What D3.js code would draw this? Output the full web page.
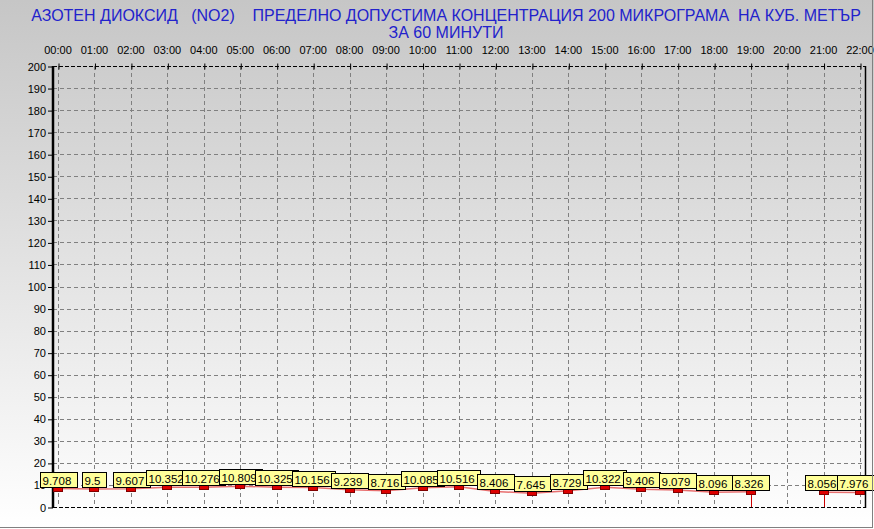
<!DOCTYPE html>
<html><head><meta charset="utf-8">
<script src="https://cdn.jsdelivr.net/npm/d3@7/dist/d3.min.js"></script>
<style>body{margin:0;padding:0;background:#fff}svg{display:block}</style>
</head><body>
<svg id="c" width="874" height="529"></svg>
<script>
const titleLines = ["АЗОТЕН ДИОКСИД   (NO2)    ПРЕДЕЛНО ДОПУСТИМА КОНЦЕНТРАЦИЯ 200 МИКРОГРАМА  НА КУБ. МЕТЪР", "ЗА 60 МИНУТИ"];
const hours = ["00:00","01:00","02:00","03:00","04:00","05:00","06:00","07:00","08:00","09:00","10:00","11:00","12:00","13:00","14:00","15:00","16:00","17:00","18:00","19:00","20:00","21:00","22:00"];
const values = [9.708,9.5,9.607,10.352,10.276,10.809,10.325,10.156,9.239,8.716,10.085,10.516,8.406,7.645,8.729,10.322,9.406,9.079,8.096,8.326,null,8.056,7.976];
const labels = ["9.708","9.5","9.607","10.352","10.276","10.809","10.325","10.156","9.239","8.716","10.085","10.516","8.406","7.645","8.729","10.322","9.406","9.079","8.096","8.326",null,"8.056","7.976"];
const yTicks = d3.range(0, 201, 10);

(function(){
const svg = d3.select("#c");
const W = 874, H = 529;
const defs = svg.append("defs");
const g = defs.append("linearGradient").attr("id","bg").attr("x1",0).attr("y1",0).attr("x2",0).attr("y2",1);
g.append("stop").attr("offset",0).attr("stop-color","#c6c6c6");
g.append("stop").attr("offset",1).attr("stop-color","#ffffff");
svg.append("rect").attr("width",W).attr("height",H).attr("fill","url(#bg)");

const pL = 53, pR = 865, pT = 66, pB = 507;
const x = d3.scaleLinear().domain([0,22]).range([58,860]);
const y = d3.scaleLinear().domain([0,200]).range([pB, pT]);

svg.append("g").selectAll("text").data(titleLines).join("text")
  .attr("x",446).attr("y",(d,i)=>21+i*17).attr("text-anchor","middle")
  .attr("font-family","Liberation Sans, Arial, sans-serif").attr("font-size",16)
  .attr("fill","#2222cc").style("white-space","pre").text(d=>d);

const grid = svg.append("g").attr("stroke","#808080").attr("stroke-dasharray","4,3").attr("stroke-width",1);
grid.selectAll("line.v").data(hours).join("line").attr("class","v")
  .attr("x1",(d,i)=>Math.round(x(i))+0.5).attr("x2",(d,i)=>Math.round(x(i))+0.5)
  .attr("y1",pT).attr("y2",pB);
grid.selectAll("line.h").data(yTicks.filter(t=>t>0&&t<200)).join("line").attr("class","h")
  .attr("x1",pL).attr("x2",pR)
  .attr("y1",d=>Math.round(y(d))+0.5).attr("y2",d=>Math.round(y(d))+0.5);

const topAxis = d3.axisTop(x).tickValues(d3.range(0,23)).tickFormat(i=>hours[i]).tickSize(3).tickPadding(9);
const ta = svg.append("g").attr("transform",`translate(0.5,${pT+0.5})`).call(topAxis);
ta.select(".domain").remove();
ta.selectAll("text").attr("font-family","Liberation Sans, Arial, sans-serif").attr("font-size",11).attr("fill","#000").attr("dx",-1).attr("dy",-1);
ta.selectAll(".tick line").attr("stroke","#000").attr("y2",3).attr("y1",-3);
svg.append("line").attr("x1",pL).attr("x2",pR).attr("y1",pT+0.5).attr("y2",pT+0.5).attr("stroke","#000").attr("stroke-dasharray","4,2");
svg.append("line").attr("x1",pL).attr("x2",pR).attr("y1",pB+0.5).attr("y2",pB+0.5).attr("stroke","#000").attr("stroke-dasharray","4,2");
svg.append("line").attr("x1",pR+0.5).attr("x2",pR+0.5).attr("y1",pT).attr("y2",pB+1).attr("stroke","#000").attr("stroke-width",1.5);

const leftAxis = d3.axisLeft(y).tickValues(yTicks).tickSize(5).tickPadding(2);
const la = svg.append("g").attr("transform",`translate(${pL},0.5)`).call(leftAxis);
la.select(".domain").remove();
la.selectAll("text").attr("font-family","Liberation Sans, Arial, sans-serif").attr("font-size",11).attr("fill","#000");
la.selectAll(".tick line").attr("stroke","#000");
svg.append("line").attr("x1",pL).attr("x2",pL).attr("y1",pT).attr("y2",pB+1).attr("stroke","#000").attr("stroke-width",2.5);

const pts = values.map((v,i)=>({i,v,l:labels[i]}));
const line = d3.line().defined(d=>d.v!=null).x(d=>x(d.i)).y(d=>y(d.v)+3);
svg.append("path").datum(pts).attr("d",line).attr("fill","none").attr("stroke","#e87070").attr("stroke-width",1.5);
pts.forEach((d,k)=>{
  if(d.v==null) return;
  const prevNull = k>0 && pts[k-1].v==null, nextNull = k<pts.length-1 && pts[k+1].v==null;
  if(prevNull||nextNull){
    svg.append("line").attr("x1",Math.round(x(d.i))+0.5).attr("x2",Math.round(x(d.i))+0.5)
      .attr("y1",y(d.v)+3).attr("y2",pB).attr("stroke","#cc0000").attr("stroke-width",1);
  }
});
const valid = pts.filter(d=>d.v!=null);
svg.append("g").selectAll("rect").data(valid).join("rect")
  .attr("x",d=>Math.round(x(d.i))-4.5).attr("y",d=>Math.round(y(d.v))+1.5)
  .attr("width",9).attr("height",4).attr("fill","#dd0000").attr("stroke","#800000").attr("stroke-width",1);

const mg = svg.append("g");
valid.forEach(d=>{
  const gg = mg.append("g");
  const t = gg.append("text").attr("font-family","Liberation Sans, Arial, sans-serif").attr("font-size",11.5)
    .attr("fill","#000").text(d.l);
  const w = t.node().getComputedTextLength() + 8;
  const cx = x(d.i);
  let bx = Math.round(cx - w/2);
  if (bx + w > 874) bx = Math.floor(874 - w);
  const by = Math.round(y(d.v)) + 1.5;
  gg.insert("rect","text").attr("x",bx+0.5).attr("y",by-15).attr("width",Math.round(w)).attr("height",15)
    .attr("fill","#ffff99").attr("stroke","#000").attr("stroke-width",1);
  t.attr("x",bx + 2.5).attr("y",by-3);
});

svg.append("line").attr("x1",872.5).attr("x2",872.5).attr("y1",0).attr("y2",528).attr("stroke","#808080");
svg.append("line").attr("x1",0).attr("x2",873).attr("y1",527.5).attr("y2",527.5).attr("stroke","#808080");
})();
</script>
</body></html>
